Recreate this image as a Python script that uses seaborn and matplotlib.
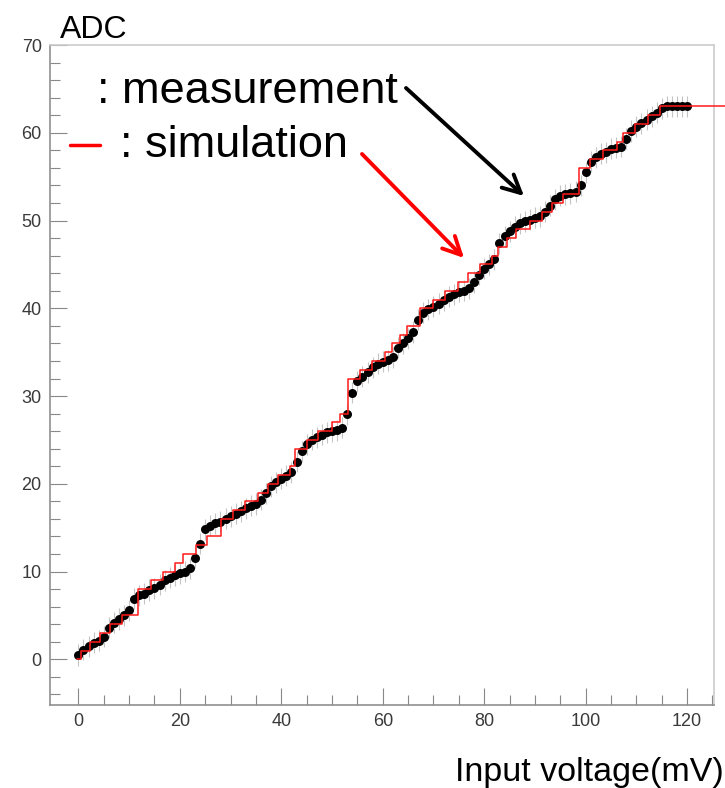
import numpy as np
import pandas as pd
import seaborn as sns
import matplotlib.pyplot as plt

# measured ADC code vs input voltage (mV)
voltage = list(range(0, 121))
adc_meas = [
    0.5, 1.1, 1.5, 1.9, 2.1, 2.6, 3.6, 4.2, 4.6, 5.0,
    5.6, 6.9, 7.3, 7.5, 7.9, 8.1, 8.5, 9.0, 9.3, 9.6,
    9.8, 10.0, 10.4, 11.6, 13.2, 14.8, 15.2, 15.5, 15.7, 16.0,
    16.3, 16.6, 16.9, 17.2, 17.5, 17.7, 18.2, 18.9, 19.7, 20.2,
    20.6, 20.9, 21.3, 22.5, 23.7, 24.5, 25.0, 25.3, 25.6, 25.9,
    26.0, 26.1, 26.4, 27.9, 30.4, 31.7, 32.2, 32.7, 33.3, 33.7,
    33.9, 34.1, 34.4, 35.5, 36.0, 36.6, 37.3, 38.7, 39.5, 39.9,
    40.2, 40.5, 40.9, 41.3, 41.6, 41.9, 42.0, 42.3, 43.0, 43.8,
    44.5, 45.0, 45.6, 47.4, 48.2, 48.8, 49.3, 49.7, 49.9, 50.1,
    50.3, 50.5, 51.0, 51.7, 52.4, 52.8, 53.0, 53.1, 53.3, 54.0,
    55.5, 56.7, 57.2, 57.6, 57.8, 58.2, 58.3, 58.4, 59.3, 60.2,
    60.7, 61.1, 61.5, 61.9, 62.3, 62.8, 63.0, 63.0, 63.0, 63.0,
    63.0,
]
adc_err = 1.2

# simulation: voltage at which each code 1..63 starts
sim_edges = [
    0.5, 2.3, 4.2, 6.2, 8.5, 11.8, 11.8, 11.8, 14.4, 16.7,
    19.0, 20.7, 23.2, 25.3, 28.1, 28.1, 30.5, 32.8, 35.4, 37.4,
    39.4, 41.7, 42.7, 42.7, 45.0, 47.3, 49.9, 51.6, 53.2, 53.2,
    53.2, 53.2, 55.5, 57.8, 60.5, 61.8, 63.4, 64.7, 67.4, 67.4,
    70.0, 72.3, 74.9, 76.9, 79.2, 81.5, 82.8, 84.5, 86.2, 89.0,
    91.4, 93.3, 95.6, 98.6, 98.6, 98.6, 100.9, 103.5, 106.2, 107.4,
    109.7, 112.2, 114.7,
]
sim_x = [-0.3] + sim_edges + [130.0]
sim_y = list(range(0, 64)) + [63]

meas = pd.DataFrame({"v": voltage, "adc": adc_meas})
sim = pd.DataFrame({"v": sim_x, "adc": sim_y})

sns.set_style("white")
plt.rcParams["font.family"] = ["Liberation Sans", "DejaVu Sans"]
plt.rcParams["text.color"] = "black"

fig = plt.figure(figsize=(7.25, 7.88), dpi=100)
ax = fig.add_axes([50 / 725, 1 - 705 / 788, 664 / 725, 660 / 788])

ax.errorbar(meas["v"], meas["adc"], yerr=adc_err, fmt="none",
            ecolor="#c4c4c4", elinewidth=0.8, zorder=2)
sns.scatterplot(data=meas, x="v", y="adc", ax=ax, color="black",
                s=42, linewidth=0, zorder=3)
sns.lineplot(data=sim, x="v", y="adc", ax=ax, color="#ff1a1a",
             linewidth=1.1, drawstyle="steps-post", sort=False,
             estimator=None, zorder=4, clip_on=False)

ax.set_xlim(-5.6, 125.3)
ax.set_ylim(-5.2, 70)
ax.set_xticks(range(0, 121, 20))
ax.set_xticks(range(0, 126, 5), minor=True)
ax.set_yticks(range(0, 71, 10))
ax.set_yticks(range(-4, 71, 2), minor=True)
ax.set_xlabel("")
ax.set_ylabel("")
ax.tick_params(axis="both", which="both", direction="in", colors="#888888",
               labelcolor="#3a3a3a", labelsize=13, bottom=True, left=True)
ax.tick_params(axis="both", which="major", length=12, width=0.8, pad=6)
ax.tick_params(axis="both", which="minor", length=7, width=0.8)

for side in ["left", "bottom"]:
    ax.spines[side].set_color("#909090")
    ax.spines[side].set_linewidth(1.2)
for side in ["top", "right"]:
    ax.spines[side].set_color("#cccccc")
    ax.spines[side].set_linewidth(1.2)

fig.text(60 / 725, 1 - 38 / 788, "ADC", fontsize=23, va="baseline", ha="left",
         color="black")
fig.text(724 / 725, 1 - 781 / 788, "Input voltage(mV)", fontsize=24.5,
         va="baseline", ha="right", color="black")

fig.text(97 / 725, 1 - 103 / 788, ": measurement", fontsize=32.5,
         va="baseline", ha="left", color="black")
fig.text(120 / 725, 1 - 157 / 788, ": simulation", fontsize=32.5,
         va="baseline", ha="left", color="black")
fig.add_artist(plt.Line2D([70 / 725, 100 / 725], [1 - 145 / 788, 1 - 145 / 788],
                          color="red", linewidth=2.5, transform=fig.transFigure))

ax.annotate("", xy=(524 / 725, 1 - 196 / 788), xytext=(406 / 725, 1 - 88 / 788),
            xycoords="figure fraction", textcoords="figure fraction",
            arrowprops=dict(arrowstyle="->", color="black", lw=2.8,
                            mutation_scale=32, shrinkA=0, shrinkB=0))
ax.annotate("", xy=(464 / 725, 1 - 258 / 788), xytext=(362 / 725, 1 - 154 / 788),
            xycoords="figure fraction", textcoords="figure fraction",
            arrowprops=dict(arrowstyle="->", color="red", lw=2.8,
                            mutation_scale=32, shrinkA=0, shrinkB=0))

fig.savefig("out.png", dpi=100)
